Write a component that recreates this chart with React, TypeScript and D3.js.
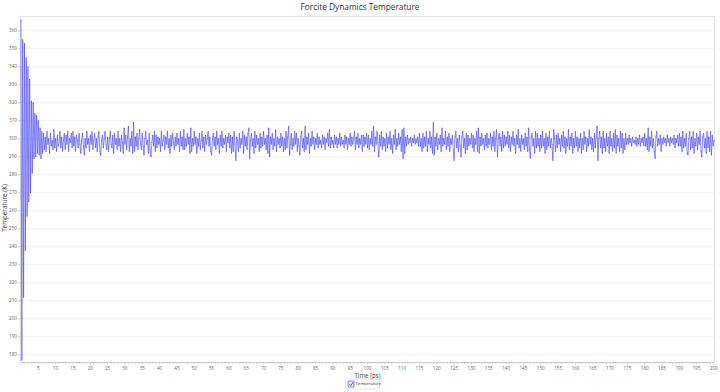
import * as d3 from 'd3';

const WIDTH = 720;
const HEIGHT = 392;
const MARGIN = { top: 16, right: 6, bottom: 30, left: 21 };

const TITLE = 'Forcite Dynamics Temperature';
const X_LABEL = 'Time (ps)';
const Y_LABEL = 'Temperature (K)';
const SERIES_NAME = 'Temperature';

// time step between frames (ps)
const TIME_STEP = 0.25;

// temperature per frame (K), 20 frames per 5 ps row
const temperature = [
  366, 177, 355, 212, 353, 238, 345, 257, 340, 265, 333, 270, 321, 281, 320, 289, 314, 290, 313, 292,
  310, 291, 306, 289, 304, 292, 303, 294, 301, 293, 304, 297, 300, 292, 303, 296, 299, 294, 305, 295,
  300, 293, 302, 296, 298, 304, 295, 301, 293, 299, 303, 294, 302, 297, 304, 293, 300, 298, 303, 295,
  304, 296, 301, 293, 302, 299, 295, 303, 297, 292, 299, 303, 296, 291, 300, 295, 304, 297, 300, 293,
  302, 297, 304, 294, 299, 303, 295, 300, 293, 301, 304, 293, 291, 299, 302, 295, 300, 304, 297, 294,
  301, 293, 300, 304, 297, 295, 302, 292, 303, 297, 300, 294, 304, 296, 300, 293, 302, 298, 292, 306,
  297, 302, 294, 301, 307, 293, 300, 296, 304, 292, 309, 293, 301, 296, 303, 294, 300, 305, 297, 294,
  303, 296, 291, 300, 304, 297, 299, 292, 303, 294, 290, 298, 302, 296, 304, 293, 302, 295, 301, 297,
  300, 293, 304, 296, 299, 302, 294, 301, 297, 304, 295, 300, 292, 302, 296, 303, 298, 294, 301, 296,
  303, 297, 300, 293, 304, 296, 301, 294, 305, 294, 300, 296, 303, 297, 301, 292, 306, 293, 300, 296,
  304, 297, 301, 292, 300, 296, 303, 294, 299, 304, 295, 301, 293, 302, 297, 300, 304, 296, 301, 293,
  291, 300, 303, 296, 301, 294, 304, 297, 300, 292, 302, 296, 304, 295, 300, 297, 302, 293, 301, 298,
  303, 295, 302, 292, 301, 293, 304, 297, 288, 301, 299, 293, 303, 295, 300, 297, 304, 292, 302, 296,
  301, 294, 303, 306, 289, 299, 303, 296, 300, 292, 304, 295, 302, 297, 300, 293, 303, 295, 301, 296,
  304, 297, 300, 294, 302, 292, 306, 290, 301, 297, 303, 294, 300, 296, 305, 293, 301, 297, 300, 295,
  303, 296, 301, 293, 300, 294, 304, 295, 301, 307, 291, 297, 303, 294, 300, 296, 304, 297, 303, 293,
  300, 296, 291, 301, 304, 295, 300, 293, 307, 294, 301, 297, 303, 292, 300, 296, 304, 297, 301, 294,
  300, 297, 303, 295, 301, 297, 299, 295, 302, 297, 301, 294, 300, 298, 303, 296, 305, 295, 301, 297,
  299, 295, 302, 297, 301, 295, 300, 297, 303, 296, 301, 297, 299, 295, 302, 297, 301, 294, 300, 297,
  303, 296, 301, 297, 300, 304, 294, 301, 297, 303, 295, 300, 297, 302, 293, 302, 296, 301, 297, 303,
  295, 302, 294, 300, 297, 304, 296, 307, 293, 301, 297, 304, 298, 290, 302, 296, 304, 294, 301, 296,
  300, 293, 303, 295, 301, 297, 304, 294, 300, 292, 302, 297, 305, 294, 300, 296, 303, 297, 301, 293,
  305, 289, 306, 292, 301, 296, 302, 297, 300, 298, 301, 296, 300, 298, 302, 297, 300, 298, 301, 296,
  303, 296, 300, 293, 303, 295, 301, 296, 304, 293, 300, 297, 304, 295, 301, 292, 309, 291, 301, 296,
  303, 294, 300, 297, 302, 293, 306, 296, 300, 297, 304, 294, 301, 296, 303, 293, 300, 297, 302, 294,
  288, 301, 304, 295, 300, 293, 302, 296, 290, 301, 304, 295, 300, 292, 303, 294, 302, 296, 300, 297,
  303, 295, 302, 293, 300, 297, 304, 293, 306, 292, 301, 296, 303, 297, 300, 294, 302, 296, 303, 295,
  300, 297, 303, 294, 301, 296, 304, 293, 300, 305, 290, 300, 303, 296, 301, 293, 304, 295, 302, 296,
  301, 297, 304, 295, 302, 293, 301, 297, 304, 296, 300, 292, 302, 297, 305, 295, 300, 293, 302, 297,
  300, 294, 303, 296, 301, 293, 306, 294, 289, 301, 303, 296, 300, 292, 304, 295, 303, 296, 300, 293,
  302, 295, 304, 296, 300, 292, 303, 294, 301, 296, 304, 295, 300, 297, 288, 305, 300, 293, 302, 295,
  303, 297, 300, 293, 302, 296, 304, 295, 301, 292, 300, 296, 305, 294, 301, 296, 303, 292, 300, 295,
  304, 296, 301, 293, 300, 295, 303, 292, 300, 294, 304, 297, 301, 293, 300, 296, 305, 297, 301, 294,
  300, 293, 303, 295, 301, 307, 288, 300, 304, 295, 301, 292, 304, 295, 300, 293, 303, 296, 301, 292,
  304, 296, 300, 293, 303, 295, 305, 292, 302, 296, 300, 293, 304, 295, 303, 292, 300, 294, 303, 297,
  300, 297, 302, 298, 300, 296, 301, 298, 299, 297, 301, 296, 300, 297, 302, 296, 300, 298, 301, 296,
  303, 296, 300, 294, 306, 293, 301, 296, 304, 295, 300, 293, 289, 301, 304, 296, 300, 297, 302, 293,
  300, 297, 301, 298, 300, 296, 302, 298, 300, 296, 301, 298, 300, 297, 302, 295, 300, 298, 302, 296,
  303, 296, 301, 293, 304, 295, 300, 296, 303, 292, 291, 300, 304, 294, 301, 295, 304, 292, 300, 296,
  303, 294, 301, 297, 304, 293, 290, 301, 303, 295, 300, 292, 304, 295, 301, 293, 304, 291, 302, 296,
  299,
];

const yTicks = d3.range(180, 361, 10);
const xTicks = d3.range(5, 201, 5);

const FONT = '"Open Sans", "Noto Sans", sans-serif';

const App = () => {
  const x0 = MARGIN.left;
  const x1 = WIDTH - MARGIN.right;
  const y0 = MARGIN.top;
  const y1 = HEIGHT - MARGIN.bottom;

  const xScale = d3.scaleLinear().domain([0, 200]).range([x0, x1]);
  const yScale = d3.scaleLinear().domain([176, 368.2]).range([y1, y0]);

  const points: [number, number][] = temperature.map((v, i) => [i * TIME_STEP, v]);
  const line = d3
    .line<[number, number]>()
    .x((d) => xScale(d[0]))
    .y((d) => yScale(d[1]));

  const minorTicks = d3.range(0, 201, 1);
  const midX = (x0 + x1) / 2;

  return (
    <svg
      width={WIDTH}
      height={HEIGHT}
      style={{ position: 'absolute', left: 0, top: 0, background: '#fff' }}
      fontFamily={FONT}
    >
      <text x={WIDTH / 2} y={10} textAnchor="middle" fontSize={8.3} fill="#333">
        {TITLE}
      </text>

      {/* grid */}
      {yTicks.map((t) => (
        <line key={t} x1={x0} x2={x1} y1={yScale(t)} y2={yScale(t)} stroke="#f0f0f0" strokeWidth={1} />
      ))}
      <line x1={x0} x2={x1} y1={y0 + 0.5} y2={y0 + 0.5} stroke="#e6e6e6" />
      <line x1={x1 + 0.5} x2={x1 + 0.5} y1={y0} y2={y1} stroke="#e0e0e0" />
      <line x1={x0 - 0.5} x2={x0 - 0.5} y1={y0} y2={y1} stroke="#d8d8d8" />

      {/* y axis labels */}
      {yTicks.map((t) => (
        <g key={t}>
          <line x1={x0 - 3} x2={x0} y1={yScale(t)} y2={yScale(t)} stroke="#ccc" />
          <text x={x0 - 4} y={yScale(t)} dy="0.35em" textAnchor="end" fontSize={4.6} fill="#666">
            {t}
          </text>
        </g>
      ))}
      <text
        transform={`translate(7,${208}) rotate(-90)`}
        textAnchor="middle"
        fontSize={6.3}
        fill="#444"
      >
        {Y_LABEL}
      </text>

      {/* x axis */}
      <line x1={x0} x2={x1} y1={y1 + 0.5} y2={y1 + 0.5} stroke="#ccc" />
      {minorTicks.map((t) => (
        <line
          key={t}
          x1={xScale(t)}
          x2={xScale(t)}
          y1={y1}
          y2={y1 + (t % 5 === 0 ? 3 : 2)}
          stroke="#c4c4c4"
          strokeWidth={0.6}
        />
      ))}
      {xTicks.map((t) => (
        <text key={t} x={xScale(t)} y={369.5} textAnchor="middle" fontSize={4.6} fill="#666">
          {t}
        </text>
      ))}
      <text x={midX} y={377.5} textAnchor="middle" fontSize={6.2} fill="#444">
        {X_LABEL}
      </text>

      {/* series */}
      <path d={line(points) ?? ''} fill="none" stroke="#4848ff" strokeWidth={0.8} strokeOpacity={0.8} />
      {points.map((d, i) => (
        <circle key={i} cx={xScale(d[0])} cy={yScale(d[1])} r={0.45} fill="#2a2ad0" />
      ))}

      {/* legend */}
      <g transform={`translate(${midX - 22},379)`}>
        <rect x={0} y={0} width={34} height={10} fill="#fff" stroke="#d6d6d6" strokeWidth={0.6} rx={1} />
        <rect x={2.5} y={2} width={6} height={6} fill="#dfe6ff" stroke="#4a4aff" strokeWidth={0.6} />
        <path d="M3.8,5 L5.3,6.6 L7.8,3" fill="none" stroke="#3333cc" strokeWidth={0.8} />
        <text x={10} y={5} dy="0.35em" fontSize={4.2} fill="#333">
          {SERIES_NAME}
        </text>
      </g>
    </svg>
  );
};

export default App;
